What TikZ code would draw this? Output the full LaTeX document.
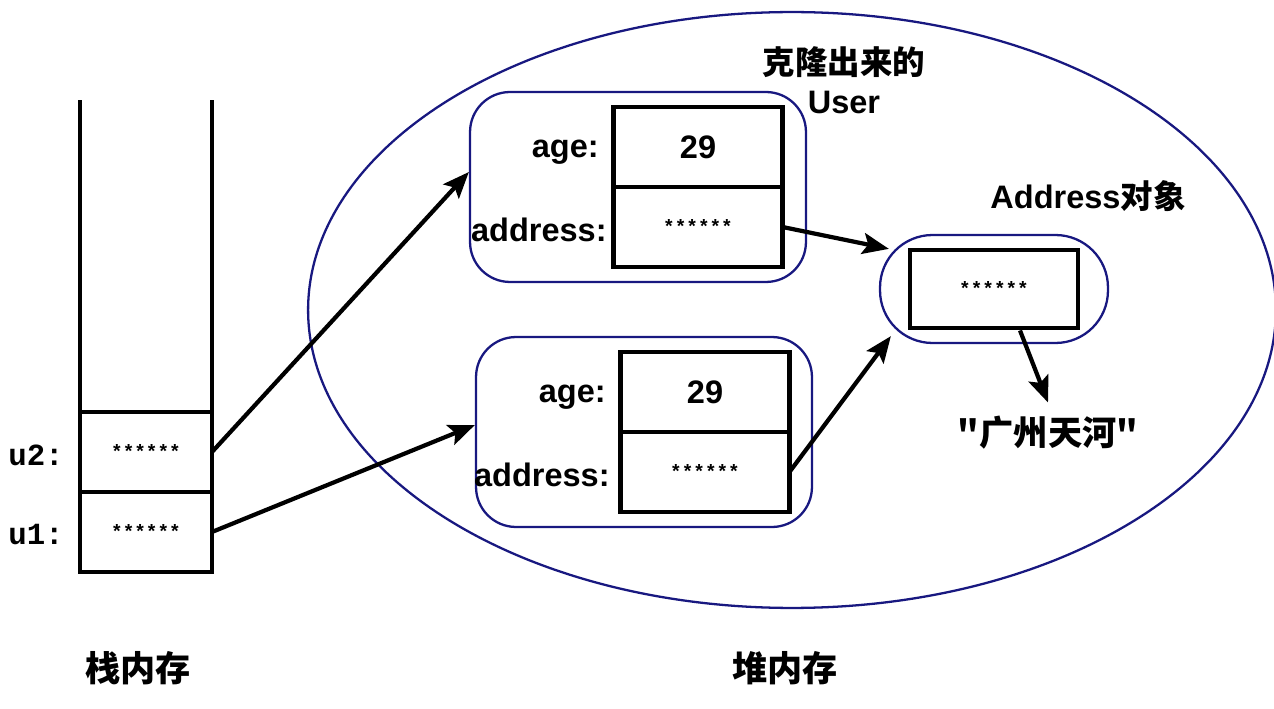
\documentclass[tikz,border=0pt]{standalone}
\usepackage{fontspec}
\setmainfont{Liberation Sans}
\setmonofont{Liberation Mono}
\newfontfamily\cjk{Noto Sans CJK SC}
\usepackage{tikz}
\usetikzlibrary{arrows.meta, positioning, shapes.geometric}

\definecolor{heapblue}{RGB}{24,24,128}

\begin{document}
\begin{tikzpicture}[
    x=0.02cm, y=-0.02cm,
    every node/.style={font=\bfseries\fontsize{18.5}{22}\selectfont},
    stars/.style={font=\ttfamily\bfseries\fontsize{11}{12}\selectfont},
    stk/.style={draw, line width=2.8pt, outer sep=0pt, inner sep=0pt,
      minimum width=2.64cm, minimum height=1.6cm},
    cell/.style={draw, line width=2.8pt, outer sep=0pt, inner sep=0pt,
      minimum width=3.38cm, minimum height=1.6cm},
    obj/.style={draw=heapblue, line width=1.3pt, rounded corners=0.8cm,
      minimum width=6.72cm, minimum height=3.8cm},
    lbl/.style={inner sep=0pt, anchor=east},
    ptr/.style={-{Stealth[length=15pt, width=12pt, inset=3pt]}, line width=2.4pt},
    >=Stealth
  ]
  \useasboundingbox (0,0) rectangle (1274,709);

  % ── stack ───────────────────────────────────────────────────────────────
  \node[stk, stars] (u2) at (146,452) {******};
  \node[stk, stars, below=0pt of u2] (u1) {******};
  \draw[line width=2.8pt] (u2.north west) -- ++(0,-312);
  \draw[line width=2.8pt] (u2.north east) -- ++(0,-312);
  \node[font=\ttfamily\bfseries\fontsize{17.5}{20}\selectfont] at (36,455) {u2:};
  \node[font=\ttfamily\bfseries\fontsize{17.5}{20}\selectfont] at (36,535) {u1:};
  \node[font=\cjk\bfseries\fontsize{20}{24}\selectfont] (stacktxt) at (138,668) {栈内存};

  % ── heap ────────────────────────────────────────────────────────────────
  \node[draw=heapblue, line width=1.3pt, ellipse, inner sep=0pt,
    minimum width=19.36cm, minimum height=11.92cm] (heap) at (792,310) {};
  \node[font=\cjk\bfseries\fontsize{20}{24}\selectfont] (heaptxt) at (785,668) {堆内存};

  % cloned User (top)
  \node[obj] (user1) at (638,187) {};
  \node[cell] (age1) at (698,147) {29};
  \node[cell, stars, below=0pt of age1] (addr1) {******};
  \node[lbl] at (599,152) {age:};
  \node[lbl] at (607,230) {address:};
  \node[align=center] (clonetxt) at (844,80) {{\cjk 克隆出来的}\\User};

  % original User (bottom)
  \node[obj] (user2) at (644,432) {};
  \node[cell] (age2) at (705,392) {29};
  \node[cell, stars, below=0pt of age2] (addr2) {******};
  \node[lbl] at (606,397) {age:};
  \node[lbl] at (610,475) {address:};

  % Address object
  \node[draw=heapblue, line width=1.3pt, rounded corners=1.05cm,
    minimum width=4.56cm, minimum height=2.16cm] (pill) at (994,289) {};
  \node[draw, line width=2.8pt, stars, minimum width=3.36cm,
    minimum height=1.56cm] (addrbox) at (994,289) {******};
  \node (addrtxt) at (1088,196) {Address{\cjk 对象}};
  \node[font=\cjk\bfseries\fontsize{19.5}{24}\selectfont, inner sep=2pt] (gz) at (1048,433) {"广州天河"};

  % ── references ──────────────────────────────────────────────────────────
  \draw[ptr] (u2.east) -- ([yshift=0.3cm]user1.west);
  \draw[ptr] (u1.east) -- ([yshift=0.14cm]user2.west);
  \draw[ptr] (addr1.east) -- ([xshift=0.2cm, yshift=-0.3cm]pill.north west);
  \draw[ptr] (addr2.east) -- ([xshift=0.24cm, yshift=0.16cm]pill.south west);
  \draw[ptr] ([xshift=0.52cm]addrbox.south) -- ([yshift=0.2cm]gz.north);

\end{tikzpicture}
\end{document}
